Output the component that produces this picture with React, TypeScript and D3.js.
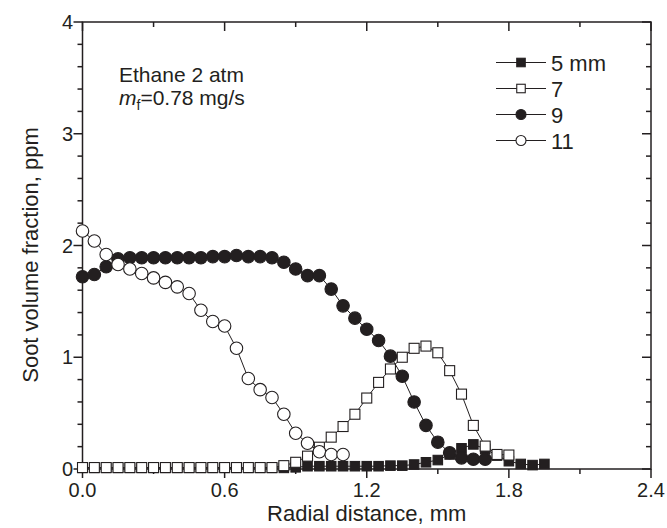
import React from "react";
import * as d3 from "d3";

// radial positions (mm), shared by all series
const radius = [
  0, 0.05, 0.1, 0.15, 0.2, 0.25, 0.3, 0.35, 0.4, 0.45,
  0.5, 0.55, 0.6, 0.65, 0.7, 0.75, 0.8, 0.85, 0.9, 0.95,
  1.0, 1.05, 1.1, 1.15, 1.2, 1.25, 1.3, 1.35, 1.4, 1.45,
  1.5, 1.55, 1.6, 1.65, 1.7, 1.75, 1.8, 1.85, 1.9, 1.95,
];

const fv5 = [
  0.01, 0.01, 0.01, 0.01, 0.01, 0.01, 0.01, 0.01, 0.01, 0.01,
  0.01, 0.01, 0.01, 0.01, 0.01, 0.01, 0.01, 0.01, 0.015, 0.025,
  0.025, 0.025, 0.025, 0.025, 0.025, 0.025, 0.03, 0.03, 0.04, 0.06,
  0.08, 0.13, 0.185, 0.22, 0.18, 0.12, 0.07, 0.045, 0.035, 0.045,
];
const fv7 = [
  0.013, 0.013, 0.013, 0.013, 0.013, 0.013, 0.013, 0.013, 0.013, 0.013,
  0.013, 0.013, 0.013, 0.013, 0.013, 0.013, 0.013, 0.03, 0.06, 0.115,
  0.195, 0.285, 0.38, 0.49, 0.635, 0.775, 0.895, 1.0, 1.08, 1.1,
  1.04, 0.88, 0.67, 0.39, 0.205, 0.13, 0.125,
];
const fv9 = [
  1.72, 1.74, 1.81, 1.88, 1.89, 1.89, 1.89, 1.89, 1.89, 1.89,
  1.89, 1.9, 1.9, 1.91, 1.9, 1.9, 1.89, 1.85, 1.79, 1.73,
  1.73, 1.61, 1.46, 1.35, 1.25, 1.15, 1.01, 0.83, 0.6, 0.39,
  0.24, 0.146, 0.1, 0.087, 0.087,
];
const fv11 = [
  2.13, 2.04, 1.92, 1.83, 1.79, 1.75, 1.71, 1.67, 1.63, 1.57,
  1.42, 1.32, 1.28, 1.08, 0.81, 0.71, 0.64, 0.49, 0.32, 0.23,
  0.155, 0.13, 0.13,
];

const seriesLabels = ["5 mm", "7", "9", "11"];
const xTicks = [0, 0.6, 1.2, 1.8, 2.4];
const yTicks = [0, 1, 2, 3, 4];

const FONT = "'Liberation Sans', Arial, sans-serif";

type Shape = "square" | "circle";

function Marker({ x, y, shape, filled, size }: { x: number; y: number; shape: Shape; filled: boolean; size: number }) {
  const fill = filled ? "#231f20" : "#fff";
  if (shape === "square") {
    return <rect x={x - size / 2} y={y - size / 2} width={size} height={size} fill={fill} stroke="#231f20" strokeWidth={1.1} />;
  }
  return <circle cx={x} cy={y} r={size / 2} fill={fill} stroke="#231f20" strokeWidth={1.1} />;
}

export default function App() {
  const width = 667;
  const height = 528;
  const left = 82.5, right = 651, top = 22, bottom = 469;

  const x = d3.scaleLinear().domain([0, 2.4]).range([left, right]);
  const y = d3.scaleLinear().domain([0, 4]).range([bottom, top]);

  const series = [
    { vals: fv5, shape: "square" as Shape, filled: true, size: 9.5 },
    { vals: fv7, shape: "square" as Shape, filled: false, size: 10 },
    { vals: fv9, shape: "circle" as Shape, filled: true, size: 12.5 },
    { vals: fv11, shape: "circle" as Shape, filled: false, size: 12.5 },
  ];

  const line = d3
    .line<number>()
    .x((_, i) => x(radius[i]))
    .y((d) => y(d));

  const xMinor = d3.range(0, 2.4001, 0.3);
  const yMinor = d3.range(0, 4.0001, 0.2);
  const ink = "#231f20";

  return (
    <svg width={width} height={height} style={{ position: "absolute", left: 0, top: 0, background: "#fff" }} fontFamily={FONT}>
      {/* frame */}
      <rect x={left} y={top} width={right - left} height={bottom - top} fill="none" stroke={ink} strokeWidth={1.5} />

      {/* x ticks: outward at bottom, inward at top */}
      {xMinor.map((t, i) => {
        const major = i % 2 === 0;
        const len = major ? 9 : 5;
        return (
          <g key={"xt" + i} stroke={ink} strokeWidth={1.5}>
            <line x1={x(t)} x2={x(t)} y1={bottom} y2={bottom + len} />
            <line x1={x(t)} x2={x(t)} y1={top} y2={top + len} />
          </g>
        );
      })}
      {/* y ticks: outward at left, inward at right */}
      {yMinor.map((t, i) => {
        const major = i % 5 === 0;
        const len = major ? 9 : 5;
        return (
          <g key={"yt" + i} stroke={ink} strokeWidth={1.5}>
            <line x1={left - len} x2={left} y1={y(t)} y2={y(t)} />
            <line x1={right - len} x2={right} y1={y(t)} y2={y(t)} />
          </g>
        );
      })}

      {xTicks.map((t) => (
        <text key={"xl" + t} x={x(t)} y={497} textAnchor="middle" fontSize={20} fill={ink}>
          {t.toFixed(1)}
        </text>
      ))}
      {yTicks.map((t) => (
        <text key={"yl" + t} x={73} y={y(t) + 7} textAnchor="end" fontSize={20} fill={ink}>
          {t}
        </text>
      ))}

      <text x={(left + right) / 2} y={521} textAnchor="middle" fontSize={22} fill={ink}>
        Radial distance, mm
      </text>
      <text transform={`translate(38,255) rotate(-90)`} textAnchor="middle" fontSize={22} fill={ink}>
        Soot volume fraction, ppm
      </text>

      {/* annotation */}
      <text x={119} y={82} fontSize={21} fill={ink}>Ethane 2 atm</text>
      <text x={119} y={105} fontSize={21} fill={ink}>
        <tspan fontStyle="italic">m</tspan>
        <tspan fontSize={14} dy={5}>f</tspan>
        <tspan dy={-5}>=0.78 mg/s</tspan>
      </text>

      {/* series */}
      {series.map((s, si) => (
        <g key={"s" + si}>
          <path d={line(s.vals) ?? ""} fill="none" stroke={ink} strokeWidth={1} />
          {s.vals.map((v, i) => (
            <Marker key={i} x={x(radius[i])} y={y(v)} shape={s.shape} filled={s.filled} size={s.size} />
          ))}
        </g>
      ))}

      {/* legend */}
      {series.map((s, si) => {
        const ly = 62.5 + si * 26;
        return (
          <g key={"lg" + si}>
            <line x1={496} x2={546} y1={ly} y2={ly} stroke={ink} strokeWidth={1} />
            <Marker x={521} y={ly} shape={s.shape} filled={s.filled} size={s.shape === "square" ? 8.5 : 10} />
            <text x={551} y={ly + 8} fontSize={22} fill={ink}>
              {seriesLabels[si]}
            </text>
          </g>
        );
      })}
    </svg>
  );
}
